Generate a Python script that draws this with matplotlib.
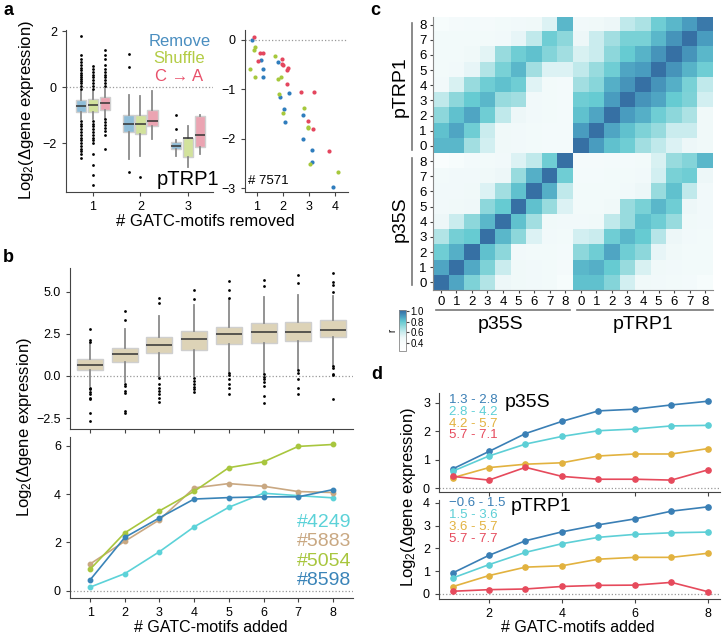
import numpy as np
import matplotlib
matplotlib.use("Agg")
import matplotlib.pyplot as plt
from matplotlib.colors import LinearSegmentedColormap, Normalize
from matplotlib.lines import Line2D

plt.rcParams['font.family'] = ['Liberation Sans', 'DejaVu Sans']
plt.rcParams['mathtext.fontset'] = 'custom'
plt.rcParams['mathtext.rm'] = 'Liberation Sans'
plt.rcParams['mathtext.it'] = 'Liberation Sans:italic'
plt.rcParams['axes.edgecolor'] = '#444444'
plt.rcParams['xtick.color'] = '#444444'
plt.rcParams['ytick.color'] = '#444444'
plt.rcParams['xtick.labelcolor'] = 'black'
plt.rcParams['ytick.labelcolor'] = 'black'
plt.rcParams['xtick.major.size'] = 3
plt.rcParams['ytick.major.size'] = 3

# ---------------- data ----------------
# panel a, boxes: rows = Remove / Shuffle / C->A, columns = 1,2,3 motifs removed
a_groups = [1, 2, 3]
a_names = ['Remove', 'Shuffle', 'C → A']
a_med = [[-0.67, -1.31, -2.12], [-0.64, -1.33, -1.83], [-0.57, -1.20, -1.72]]
a_q1 = [[-0.89, -1.60, -2.22], [-0.87, -1.68, -2.50], [-0.82, -1.40, -2.13]]
a_q3 = [[-0.44, -0.98, -1.97], [-0.42, -0.98, -1.80], [-0.35, -0.82, -1.03]]
a_lo = [[-1.15, -2.58, -2.45], [-1.15, -2.45, -2.85], [-1.10, -1.87, -2.40]]
a_hi = [[-0.12, -0.26, -1.90], [-0.12, -0.33, -1.38], [-0.05, -0.13, -1.00]]
a_fliers = [
    [[-0.05, 0.05, 0.15, 0.22, 0.3, 0.38, 0.45, 0.52, 0.6, 0.7, 0.8, 0.9, 1.0, 1.15, 1.85,
      -1.2, -1.3, -1.4, -1.5, -1.6, -1.7, -1.8, -1.9, -2.0, -2.1, -2.2, -2.3, -2.4, -2.55],
     [1.2, 0.72, -3.05],
     [-1.0, -1.5]],
    [[-0.05, 0.05, 0.15, 0.25, 0.35, 0.45, 0.55, 0.65, 0.75,
      -1.2, -1.3, -1.4, -1.5, -1.6, -1.7, -1.8, -1.9, -2.0, -2.4, -2.8, -3.15, -3.5],
     [-3.2],
     []],
    [[0.05, 0.15, 0.25, 0.35, 0.45, 0.55, 0.65, 0.8, 1.0, 1.15, 1.35,
      -1.15, -1.25, -1.35, -1.45, -1.55, -1.7, -2.2],
     [],
     []],
]

# panel a, scatter (# 7571)
sc_remove_x = [0.82, 1.17, 1.26, 1.26, 1.82, 1.90, 2.05, 2.10, 2.24, 2.76, 2.76, 3.12, 3.13, 3.92]
sc_remove_y = [0.0, -0.40, -0.59, -0.75, -0.45, -1.16, -1.39, -1.66, -1.08, -1.52, -2.00, -2.23, -2.48, -2.97]
sc_shuffle_x = [0.96, 0.92, 0.76, 0.95, 1.70, 1.92, 1.83, 1.85, 2.00, 2.83, 2.96, 2.97, 3.04, 4.10]
sc_shuffle_y = [-0.14, -0.20, -0.59, -0.76, -0.33, -0.75, -0.80, -1.10, -1.48, -1.38, -1.76, -1.79, -2.51, -2.68]
sc_ca_x = [0.90, 1.12, 1.26, 1.06, 1.97, 1.96, 2.01, 2.15, 2.22, 2.15, 2.71, 3.20, 2.96, 3.18, 3.79]
sc_ca_y = [0.05, -0.26, -0.26, -0.43, -0.39, -0.48, -0.50, -0.60, -0.57, -0.89, -1.05, -1.05, -1.64, -1.80, -2.24]

# panel b, boxes per number of added motifs
b_added = [1, 2, 3, 4, 5, 6, 7, 8]
b_med = [0.65, 1.29, 1.81, 2.18, 2.48, 2.58, 2.62, 2.74]
b_q1 = [0.36, 0.81, 1.33, 1.55, 1.88, 1.98, 2.08, 2.30]
b_q3 = [0.99, 1.65, 2.28, 2.66, 2.90, 3.11, 3.19, 3.33]
b_lo = [-0.60, -0.34, -0.04, 0.0, 0.26, 0.16, 0.40, 0.56]
b_hi = [1.94, 2.78, 3.53, 4.23, 4.50, 4.66, 4.82, 4.72]
b_fliers = [
    [2.0, 2.1, 2.8, -0.7, -0.8, -0.95, -1.1, -1.3, -1.4, -2.2, -2.7],
    [3.3, 3.85, -0.5, -0.6, -0.9, -1.0, -2.1, -2.2],
    [4.35, 4.65, -0.1, -0.5, -0.7, -0.9, -1.1, -1.3, -1.55],
    [4.55, 5.1, -0.1, -0.3, -0.5, -0.65, -0.8, -0.95],
    [4.6, 5.1, 5.6, 0.2, 0.05, -0.2, -0.5, -0.7, -1.05],
    [5.35, 5.7, 0.1, -0.05, -0.2, -0.35, -0.6, -1.2, -1.6],
    [5.5, 6.0, 0.35, 0.2, -0.2, -0.7, -1.05],
    [5.0, 5.4, 5.55, 6.1, 0.6, 0.45, 0.1, 0.05, -1.4],
]

# panel b, single constructs
b_ids = ['#4249', '#5883', '#5054', '#8598']
b_4249 = [0.15, 0.71, 1.62, 2.65, 3.46, 4.04, 3.94, 3.85]
b_5883 = [1.11, 2.05, 2.94, 4.26, 4.44, 4.33, 4.11, 4.07]
b_5054 = [0.89, 2.40, 3.31, 4.12, 5.10, 5.34, 5.98, 6.06]
b_8598 = [0.45, 2.21, 3.02, 3.80, 3.86, 3.89, 3.89, 4.19]

# panel c, correlation blocks (rows 0..8 bottom to top, cols 0..8)
r_35s_35s = [
    [1.00, 0.88, 0.75, 0.65, 0.50, 0.48, 0.47, 0.46, 0.42],
    [0.88, 1.00, 0.87, 0.75, 0.60, 0.48, 0.47, 0.46, 0.44],
    [0.78, 0.86, 1.00, 0.82, 0.72, 0.47, 0.46, 0.46, 0.45],
    [0.65, 0.77, 0.80, 1.00, 0.84, 0.72, 0.55, 0.47, 0.46],
    [0.50, 0.60, 0.72, 0.84, 1.00, 0.82, 0.68, 0.48, 0.47],
    [0.47, 0.48, 0.49, 0.72, 0.80, 1.00, 0.82, 0.70, 0.55],
    [0.47, 0.47, 0.48, 0.55, 0.68, 0.82, 1.00, 0.86, 0.62],
    [0.46, 0.47, 0.47, 0.48, 0.50, 0.70, 0.86, 1.00, 0.78],
    [0.40, 0.42, 0.45, 0.46, 0.47, 0.55, 0.62, 0.78, 1.00],
]
r_35s_trp = [
    [0.82, 0.82, 0.74, 0.58, 0.48, 0.47, 0.46, 0.45, 0.42],
    [0.84, 0.86, 0.80, 0.70, 0.56, 0.48, 0.47, 0.46, 0.46],
    [0.72, 0.78, 0.88, 0.78, 0.72, 0.52, 0.48, 0.46, 0.46],
    [0.58, 0.60, 0.78, 0.84, 0.80, 0.64, 0.50, 0.47, 0.46],
    [0.47, 0.48, 0.62, 0.70, 0.82, 0.78, 0.70, 0.48, 0.47],
    [0.46, 0.46, 0.48, 0.70, 0.76, 0.84, 0.78, 0.50, 0.47],
    [0.46, 0.46, 0.46, 0.47, 0.50, 0.70, 0.82, 0.62, 0.47],
    [0.45, 0.45, 0.46, 0.46, 0.47, 0.58, 0.76, 0.78, 0.50],
    [0.44, 0.44, 0.45, 0.45, 0.46, 0.56, 0.70, 0.74, 0.84],
]
r_trp_35s = [
    [0.84, 0.84, 0.68, 0.58, 0.48, 0.47, 0.46, 0.45, 0.45],
    [0.82, 0.88, 0.78, 0.60, 0.48, 0.47, 0.46, 0.45, 0.45],
    [0.72, 0.82, 0.88, 0.78, 0.62, 0.50, 0.47, 0.46, 0.45],
    [0.62, 0.72, 0.80, 0.84, 0.70, 0.68, 0.47, 0.46, 0.45],
    [0.47, 0.56, 0.70, 0.78, 0.82, 0.78, 0.54, 0.46, 0.45],
    [0.46, 0.47, 0.52, 0.65, 0.76, 0.84, 0.68, 0.55, 0.55],
    [0.46, 0.46, 0.48, 0.53, 0.70, 0.78, 0.82, 0.74, 0.68],
    [0.46, 0.46, 0.46, 0.46, 0.47, 0.52, 0.62, 0.78, 0.72],
    [0.42, 0.44, 0.45, 0.44, 0.46, 0.47, 0.48, 0.55, 0.84],
]
r_trp_trp = [
    [1.00, 0.90, 0.82, 0.78, 0.68, 0.62, 0.55, 0.50, 0.48],
    [0.90, 1.00, 0.88, 0.82, 0.75, 0.70, 0.60, 0.60, 0.48],
    [0.82, 0.88, 1.00, 0.90, 0.86, 0.78, 0.72, 0.66, 0.48],
    [0.78, 0.80, 0.90, 1.00, 0.92, 0.88, 0.80, 0.75, 0.58],
    [0.68, 0.73, 0.86, 0.92, 1.00, 0.92, 0.86, 0.76, 0.62],
    [0.62, 0.70, 0.78, 0.88, 0.90, 1.00, 0.92, 0.85, 0.78],
    [0.56, 0.60, 0.72, 0.80, 0.85, 0.92, 1.00, 0.92, 0.84],
    [0.50, 0.60, 0.68, 0.76, 0.76, 0.84, 0.92, 1.00, 0.90],
    [0.47, 0.48, 0.50, 0.62, 0.66, 0.78, 0.84, 0.90, 0.98],
]
c_ticklabels = [str(i) for i in range(9)] * 2

# panel d, mean effect per expression bin
d_added = [1, 2, 3, 4, 5, 6, 7, 8]
d_35s_bins = ['1.3 - 2.8', '2.8 - 4.2', '4.2 - 5.7', '5.7 - 7.1']
d_35s = [
    [0.67, 1.29, 1.92, 2.35, 2.72, 2.78, 2.93, 3.06],
    [0.59, 1.13, 1.55, 1.82, 2.02, 2.08, 2.19, 2.21],
    [0.36, 0.72, 0.84, 0.89, 1.13, 1.20, 1.20, 1.39],
    [0.41, 0.28, 0.73, 0.41, 0.31, 0.31, 0.28, 0.64],
]
d_trp_bins = ['\u22120.6 - 1.5', '1.5 - 3.6', '3.6 - 5.7', '5.7 - 7.7']
d_trp = [
    [0.92, 1.70, 2.34, 2.73, 3.04, 3.30, 3.64, 3.83],
    [0.70, 1.29, 1.83, 2.21, 2.49, 2.62, 2.69, 2.72],
    [0.32, 0.81, 1.18, 1.24, 1.53, 1.61, 1.61, 1.79],
    [0.12, 0.19, 0.22, 0.33, 0.38, 0.39, 0.51, 0.10],
]

# ---------------- styles ----------------
W, H = 722, 635
a_face = ['#8fbdd8', '#d2e29c', '#eba4b2']
a_text = ['#4a8ec0', '#b3cc45', '#e8506a']
a_dot = ['#2f7dbd', '#a6c83c', '#e4465e']
b_line_cols = ['#5cd2d8', '#c9a882', '#a8c63e', '#3a84b8']
d_cols = ['#3a7fb5', '#5dcfd6', '#e2b23f', '#e64a5c']
ylab = 'Log$_2$(\u0394gene expression)'


def box(ax, pos, med, q1, q3, lo, hi, fl, face, width):
    stats = [dict(med=med, q1=q1, q3=q3, whislo=lo, whishi=hi, fliers=fl)]
    ax.bxp(stats, positions=[pos], widths=width, patch_artist=True, showcaps=False,
           boxprops=dict(facecolor=face, edgecolor='#cfcfcf', linewidth=1.0),
           medianprops=dict(color='#333333', linewidth=1.1),
           whiskerprops=dict(color='#8a8a8a', linewidth=1.3),
           flierprops=dict(marker='o', markersize=2.0, markerfacecolor='black',
                           markeredgecolor='none'))


def clean(ax):
    ax.spines['top'].set_visible(False)
    ax.spines['right'].set_visible(False)
    ax.tick_params(labelsize=9)


def rect(x0, y0, x1, y1):
    return [x0 / W, 1 - y1 / H, (x1 - x0) / W, (y1 - y0) / H]


fig = plt.figure(figsize=(W / 100, H / 100), dpi=100)

# ---------------- panel a ----------------
ax_a = fig.add_axes(rect(66, 30, 213, 192))
for t in range(3):
    for g in range(3):
        box(ax_a, a_groups[g] + (t - 1) * 0.25, a_med[t][g], a_q1[t][g], a_q3[t][g],
            a_lo[t][g], a_hi[t][g], a_fliers[t][g], a_face[t], 0.22)
ax_a.axhline(0, ls=':', color='#999999', lw=0.9, zorder=0)
ax_a.set_xlim(0.43, 3.53)
ax_a.set_ylim(-3.75, 2.05)
ax_a.set_xticks(a_groups)
ax_a.set_xticklabels([str(g) for g in a_groups])
ax_a.set_yticks([-2, 0, 2])
ax_a.set_yticklabels(['\u22122', '0', '2'])
clean(ax_a)
for t in range(3):
    ax_a.text(0.77, 0.93 - t * 0.108, a_names[t], color=a_text[t], fontsize=12,
              ha='center', va='center', transform=ax_a.transAxes)
ax_a.text(0.83, 0.075, 'pTRP1', fontsize=14.5, ha='center', va='center',
          transform=ax_a.transAxes)

ax_s = fig.add_axes(rect(245, 30, 348, 192))
ax_s.scatter(sc_remove_x, sc_remove_y, s=9, color=a_dot[0], lw=0, zorder=3)
ax_s.scatter(sc_shuffle_x, sc_shuffle_y, s=9, color=a_dot[1], lw=0, zorder=3)
ax_s.scatter(sc_ca_x, sc_ca_y, s=9, color=a_dot[2], lw=0, zorder=3)
ax_s.axhline(0, ls=':', color='#999999', lw=0.9, zorder=0)
ax_s.set_xlim(0.56, 4.5)
ax_s.set_ylim(-3.08, 0.2)
ax_s.set_xticks([1, 2, 3, 4])
ax_s.set_yticks([-3, -2, -1, 0])
ax_s.set_yticklabels(['\u22123', '\u22122', '\u22121', '0'])
clean(ax_s)
ax_s.text(0.03, 0.07, '# 7571', fontsize=9.5, ha='left', va='center',
          transform=ax_s.transAxes)

fig.text(26 / W, 1 - 110 / H, ylab, rotation=90, fontsize=12, ha='center', va='center')
fig.text(205 / W, 1 - 221 / H, '# GATC-motifs removed', fontsize=12, ha='center', va='center')

# ---------------- panel b ----------------
ax_b1 = fig.add_axes(rect(70, 268, 353, 429))
for i, x in enumerate(b_added):
    box(ax_b1, x, b_med[i], b_q1[i], b_q3[i], b_lo[i], b_hi[i], b_fliers[i], '#ddd3b7', 0.75)
ax_b1.axhline(0, ls=':', color='#999999', lw=0.9, zorder=0)
ax_b1.set_xlim(0.42, 8.58)
ax_b1.set_ylim(-3.15, 6.4)
ax_b1.set_xticks(b_added)
ax_b1.set_xticklabels([])
ax_b1.set_yticks([-2.5, 0, 2.5, 5])
ax_b1.set_yticklabels(['\u22122.5', '0.0', '2.5', '5.0'])
clean(ax_b1)

ax_b2 = fig.add_axes(rect(70, 437, 353, 598))
for vals, col in zip([b_4249, b_5883, b_5054, b_8598], b_line_cols):
    ax_b2.plot(b_added, vals, '-o', color=col, lw=1.2, ms=3.2)
ax_b2.axhline(0, ls=':', color='#999999', lw=0.9, zorder=0)
ax_b2.set_xlim(0.42, 8.58)
ax_b2.set_ylim(-0.3, 6.37)
ax_b2.set_xticks(b_added)
ax_b2.set_yticks([0, 2, 4, 6])
clean(ax_b2)
for i, name in enumerate(b_ids):
    ax_b2.text(0.995, 0.472 - i * 0.122, name, color=b_line_cols[i], fontsize=14,
               ha='right', va='center', transform=ax_b2.transAxes)

fig.text(25 / W, 1 - 427 / H, ylab, rotation=90, fontsize=12, ha='center', va='center')
fig.text(211 / W, 1 - 627 / H, '# GATC-motifs added', fontsize=11.5, ha='center', va='center')

# ---------------- panel c ----------------
r_all = np.block([[np.array(r_35s_35s), np.array(r_35s_trp)],
                  [np.array(r_trp_35s), np.array(r_trp_trp)]])
vmin, vmax = 0.25, 1.02
nodes = [0.25, 0.4, 0.5, 0.6, 0.7, 0.8, 0.9, 1.02]
node_cols = ['#ffffff', '#f9fdfd', '#eef8f9', '#cbedef', '#98dbde', '#66cbd2', '#4a9dc0', '#3368a0']
cmap = LinearSegmentedColormap.from_list(
    'r', [((v - vmin) / (vmax - vmin), c) for v, c in zip(nodes, node_cols)])

ax_c = fig.add_axes(rect(433, 17, 713, 290))
im = ax_c.imshow(r_all, origin='lower', aspect='auto', cmap=cmap,
                 norm=Normalize(vmin, vmax), interpolation='nearest')
ax_c.set_xticks(range(18))
ax_c.set_xticklabels(c_ticklabels)
ax_c.set_yticks(range(18))
ax_c.set_yticklabels(c_ticklabels)
ax_c.spines['top'].set_visible(False)
ax_c.spines['right'].set_visible(False)
ax_c.spines['left'].set_color('#888888')
ax_c.spines['bottom'].set_color('#888888')
ax_c.tick_params(labelsize=9.5, length=2.5, pad=2)

# group brackets
for (x0, y0, x1, y1) in [(412, 23, 412, 150), (412, 158, 412, 285),
                         (436, 310, 570, 310), (577, 310, 713, 310)]:
    fig.add_artist(Line2D([x0 / W, x1 / W], [1 - y0 / H, 1 - y1 / H], color='#777777', lw=1.2))
fig.text(400 / W, 1 - 87 / H, 'pTRP1', rotation=90, fontsize=14, ha='center', va='center')
fig.text(400 / W, 1 - 219 / H, 'p35S', rotation=90, fontsize=14, ha='center', va='center')
fig.text(500 / W, 1 - 324 / H, 'p35S', fontsize=14, ha='center', va='center')
fig.text(643 / W, 1 - 324 / H, 'pTRP1', fontsize=14, ha='center', va='center')

cax = fig.add_axes(rect(399, 310, 406, 351))
cb = fig.colorbar(im, cax=cax, ticks=[0.4, 0.6, 0.8, 1.0])
cb.outline.set_edgecolor('#888888')
cb.outline.set_linewidth(0.6)
cax.tick_params(labelsize=7, length=2, pad=1)
cax.set_ylabel('r', fontsize=7, labelpad=1)
cax.yaxis.set_label_position('left')

# ---------------- panel d ----------------
ax_d1 = fig.add_axes(rect(439, 393, 720, 492))
for vals, col in zip(d_35s, d_cols):
    ax_d1.plot(d_added, vals, '-o', color=col, lw=1.2, ms=3.8)
ax_d1.axhline(0, ls=':', color='#999999', lw=0.9, zorder=0)
ax_d1.set_xlim(0.63, 8.33)
ax_d1.set_ylim(-0.14, 3.35)
ax_d1.set_xticks([2, 4, 6, 8])
ax_d1.set_xticklabels([])
ax_d1.set_yticks([0, 1, 2, 3])
clean(ax_d1)
for i, lab in enumerate(d_35s_bins):
    ax_d1.text(0.036, 0.925 - i * 0.118, lab, color=d_cols[i], fontsize=9.5,
               ha='left', va='center', transform=ax_d1.transAxes)
ax_d1.text(0.235, 0.9, 'p35S', fontsize=14, ha='left', va='center', transform=ax_d1.transAxes)

ax_d2 = fig.add_axes(rect(439, 500, 720, 599))
for vals, col in zip(d_trp, d_cols):
    ax_d2.plot(d_added, vals, '-o', color=col, lw=1.2, ms=3.8)
ax_d2.axhline(0, ls=':', color='#999999', lw=0.9, zorder=0)
ax_d2.set_xlim(0.63, 8.33)
ax_d2.set_ylim(-0.22, 4.13)
ax_d2.set_xticks([2, 4, 6, 8])
ax_d2.set_yticks([0, 1, 2, 3, 4])
clean(ax_d2)
for i, lab in enumerate(d_trp_bins):
    ax_d2.text(0.036, 0.965 - i * 0.118, lab, color=d_cols[i], fontsize=9.5,
               ha='left', va='center', transform=ax_d2.transAxes)
ax_d2.text(0.255, 0.93, 'pTRP1', fontsize=14, ha='left', va='center', transform=ax_d2.transAxes)

fig.text(409 / W, 1 - 497 / H, ylab, rotation=90, fontsize=12, ha='center', va='center')
fig.text(578 / W, 1 - 627 / H, '# GATC-motifs added', fontsize=11.5, ha='center', va='center')

# panel letters
for lab, x, y in [('a', 3, 2), ('b', 3, 249), ('c', 370, 2), ('d', 371, 366)]:
    fig.text(x / W, 1 - y / H, lab, fontsize=13, fontweight='bold', ha='left', va='top')

fig.savefig('out.png', dpi=100)
